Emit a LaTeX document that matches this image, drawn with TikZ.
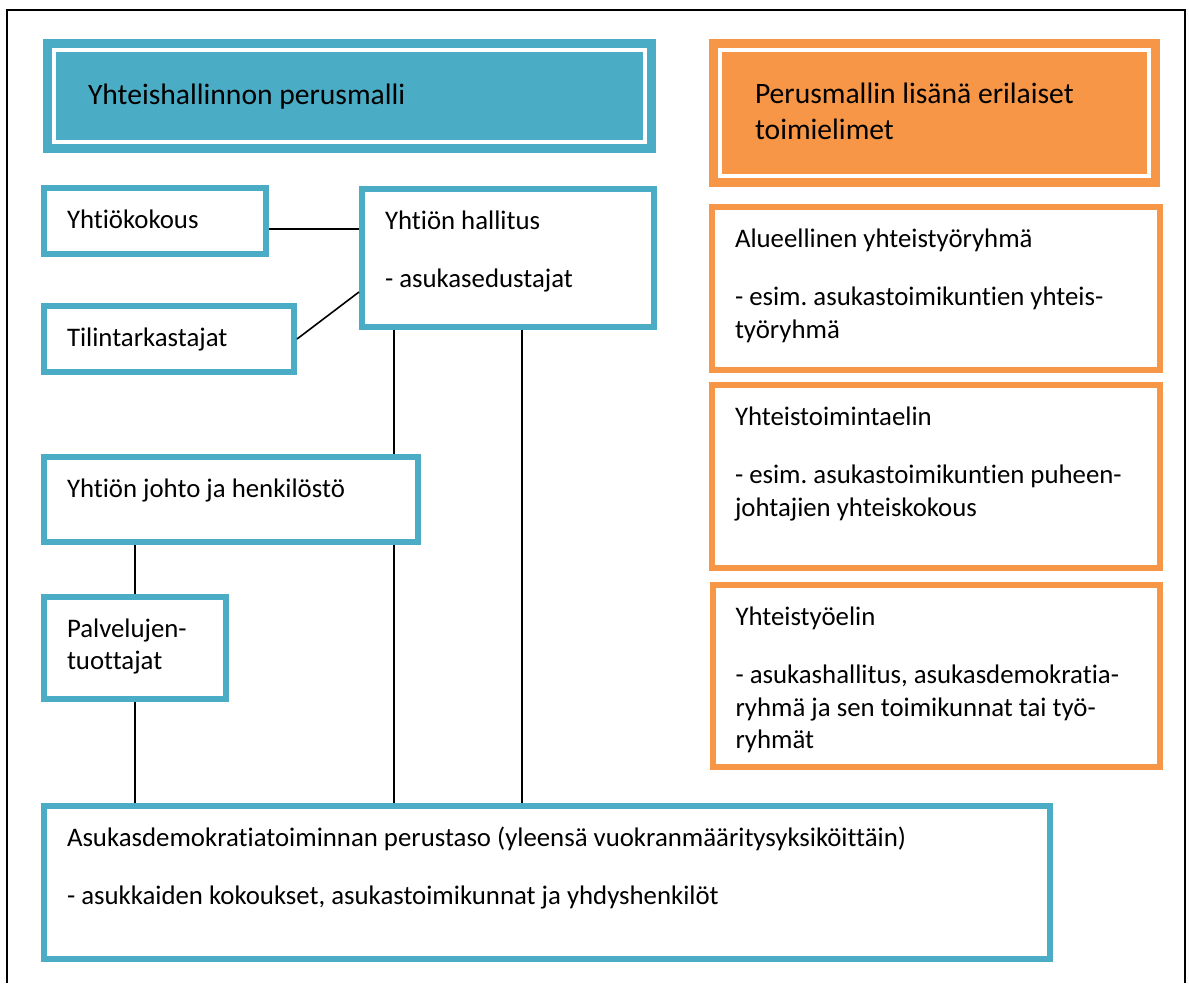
\documentclass[tikz,border=0pt]{standalone}
\usepackage{fontspec}
\setmainfont{Carlito}[Ligatures=NoCommon]
\usetikzlibrary{positioning,calc}
\definecolor{aqua}{HTML}{4BACC6}
\definecolor{orng}{HTML}{F79646}
\frenchspacing
\newcommand{\boxtext}[3]{\parbox[c][#2][t]{#1}{\rule{0pt}{40pt}#3}}

\begin{document}
\begin{tikzpicture}[x=1pt,y=-1pt,
  every node/.style={inner xsep=23pt,inner ysep=0pt,anchor=north west,font=\fontsize{26.8}{32.5}\selectfont},
  tealbox/.style={draw=aqua,line width=6pt,fill=white},
  orangebox/.style={draw=orng,line width=6pt,fill=white},
  headbox/.style={line width=9pt,double=white,double distance=4pt,outer sep=0pt,font=\fontsize{29.6}{36}\selectfont},
  link/.style={line width=1.6pt}]
\useasboundingbox (0,0) rectangle (1189,983);
\draw[line width=2.4pt] (7,983) -- (7,10) -- (1185,10) -- (1185,983);

% headers
\node[headbox,draw=aqua,fill=aqua,inner xsep=34pt] (perusmalli) at (54,50) {\parbox[c][92pt][t]{523pt}{\rule{0pt}{54pt}Yhteishallinnon perusmalli}};
\node[headbox,draw=orng,fill=orng,inner xsep=35pt] (lisana) at (720,50) {\parbox[c][126pt][t]{359pt}{\rule{0pt}{53pt}Perusmallin lisänä erilaiset\\toimielimet}};

% perusmalli
\node[tealbox] (kokous) at (41,185) {\boxtext{176pt}{66pt}{Yhtiökokous}};
\node[tealbox] (hallitus) at (359,186) {\boxtext{246pt}{138pt}{Yhtiön hallitus\\[26pt]- asukasedustajat}};
\node[tealbox,below right=46pt and 0pt of kokous.south west] (tilin) {\boxtext{204pt}{66pt}{Tilintarkastajat}};
\node[tealbox] (johto) at (41,454) {\boxtext{328pt}{85pt}{Yhtiön johto ja henkilöstö}};
\node[tealbox,below right=49pt and 0pt of johto.south west] (palvelu) {\boxtext{136pt}{102pt}{Palvelujen-\\tuottajat}};
\node[tealbox] (perustaso) at (41,803) {\boxtext{960pt}{153pt}{Asukasdemokratiatoiminnan perustaso (yleensä vuokranmääritysyksiköittäin)\\[26pt]- asukkaiden kokoukset, asukastoimikunnat ja yhdyshenkilöt}};

% toimielimet
\node[orangebox] (alue) at (709,204) {\boxtext{402pt}{163pt}{Alueellinen yhteistyöryhmä\\[26pt]- esim. asukastoimikuntien yhteis-\\työryhmä}};
\node[orangebox,below=9pt of alue] (toimin) {\boxtext{402pt}{183pt}{Yhteistoimintaelin\\[26pt]- esim. asukastoimikuntien puheen-\\johtajien yhteiskokous}};
\node[orangebox,below=11pt of toimin] (tyo) {\boxtext{401pt}{182pt}{Yhteistyöelin\\[26pt]- asukashallitus, asukasdemokratia-\\ryhmä ja sen toimikunnat tai työ-\\ryhmät}};

% yhteydet
\draw[link] ([yshift=-8pt]kokous.east) -- ([yshift=-8pt]kokous.east -| hallitus.west);
\draw[link] (tilin.east) -- ([yshift=-34pt]hallitus.west);
\coordinate (ha) at ([xshift=35pt]hallitus.south west);
\coordinate (hb) at ([xshift=163pt]hallitus.south west);
\draw[link] (ha) -- (ha |- johto.north);
\draw[link] (ha |- johto.south) -- (ha |- perustaso.north);
\draw[link] (hb) -- (hb |- perustaso.north);
\draw[link] (palvelu.north |- johto.south) -- (palvelu.north);
\draw[link] (palvelu.south) -- (palvelu.south |- perustaso.north);
\foreach \d/\n in {29/alue,156/toimin,357/tyo}
  \draw[link] ($(hb)+(0,\d)$) -- ($(hb)+(0,\d)$ -| \n.west);
\end{tikzpicture}
\end{document}
